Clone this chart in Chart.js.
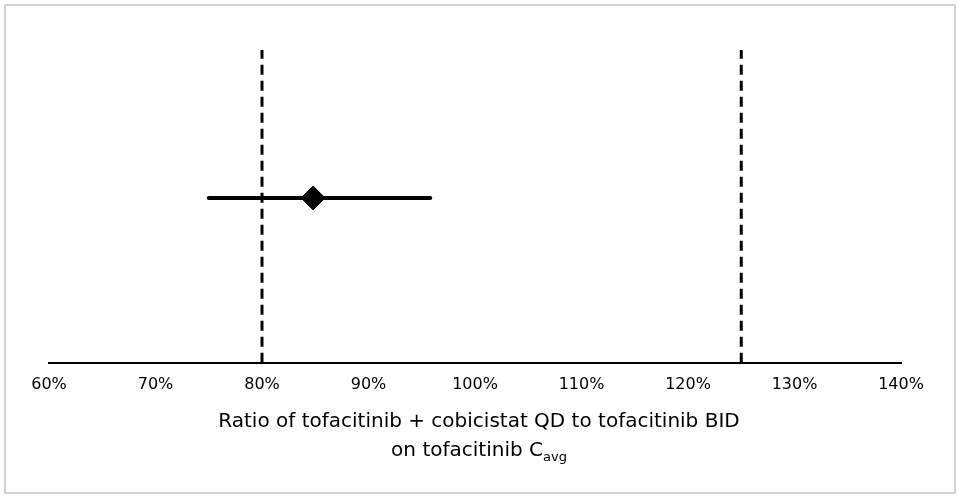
<!DOCTYPE html>
<html>
<head>
<meta charset="utf-8">
<script src="https://cdn.jsdelivr.net/npm/chart.js@4/dist/chart.umd.min.js"></script>
<style>
  body { margin: 0; background: #fff; }
  #wrap { position: relative; width: 958px; height: 497px; }
  #frame { position: absolute; left: 4px; top: 4px; width: 948px; height: 486px; border: 2px solid #d6d0d6; }
  #chart { position: absolute; left: 0; top: 0; }
  #xtitle {
    position: absolute; left: 0; top: 406px; width: 958px; text-align: center;
    font-family: "DejaVu Sans", sans-serif; font-size: 20px; line-height: 29px; color: #000;
  }
  #xtitle sub { font-size: 13px; vertical-align: -5px; line-height: 0; }
</style>
</head>
<body>
<div id="wrap">
  <div id="frame"></div>
  <canvas id="chart" width="958" height="414"></canvas>
  <div id="xtitle">Ratio of tofacitinib + cobicistat QD to tofacitinib BID<br>on tofacitinib C<sub>avg</sub></div>
</div>
<script>
// forest plot: point estimate and 90% CI, percent
const estimate = 84.8;
const ciLow = 75.0;
const ciHigh = 95.8;
const rowY = 0.527;
// no-effect bounds
const bounds = [80, 125];
const xTicks = [60, 70, 80, 90, 100, 110, 120, 130, 140];

const boundSets = bounds.map((b) => ({
  type: "line",
  data: [{ x: b, y: 0 }, { x: b, y: 1 }],
  borderColor: "#000",
  borderWidth: 3,
  borderDash: [10, 6],
  pointRadius: 0
}));

const ctx = document.getElementById("chart").getContext("2d");
new Chart(ctx, {
  type: "scatter",
  data: {
    datasets: [
      ...boundSets,
      {
        type: "line",
        data: [{ x: ciLow, y: rowY }, { x: ciHigh, y: rowY }],
        borderColor: "#000",
        borderWidth: 4,
        borderCapStyle: "round",
        pointRadius: 0
      },
      {
        data: [{ x: estimate, y: rowY }],
        pointStyle: "rectRot",
        pointRadius: 12,
        backgroundColor: "#000",
        borderColor: "#000"
      }
    ]
  },
  options: {
    responsive: false,
    animation: false,
    layout: { padding: { left: 49, right: 57, top: 50, bottom: 8 } },
    plugins: { legend: { display: false }, tooltip: { enabled: false } },
    scales: {
      x: {
        type: "linear",
        min: xTicks[0],
        max: xTicks[xTicks.length - 1],
        afterBuildTicks: (axis) => { axis.ticks = xTicks.map((v) => ({ value: v })); },
        grid: { display: false, drawTicks: false },
        border: { color: "#000", width: 2 },
        ticks: {
          padding: 12,
          color: "#000",
          font: { family: "DejaVu Sans", size: 16 },
          callback: (v) => v + "%"
        }
      },
      y: { display: false, min: 0, max: 1 }
    }
  }
});
</script>
</body>
</html>
